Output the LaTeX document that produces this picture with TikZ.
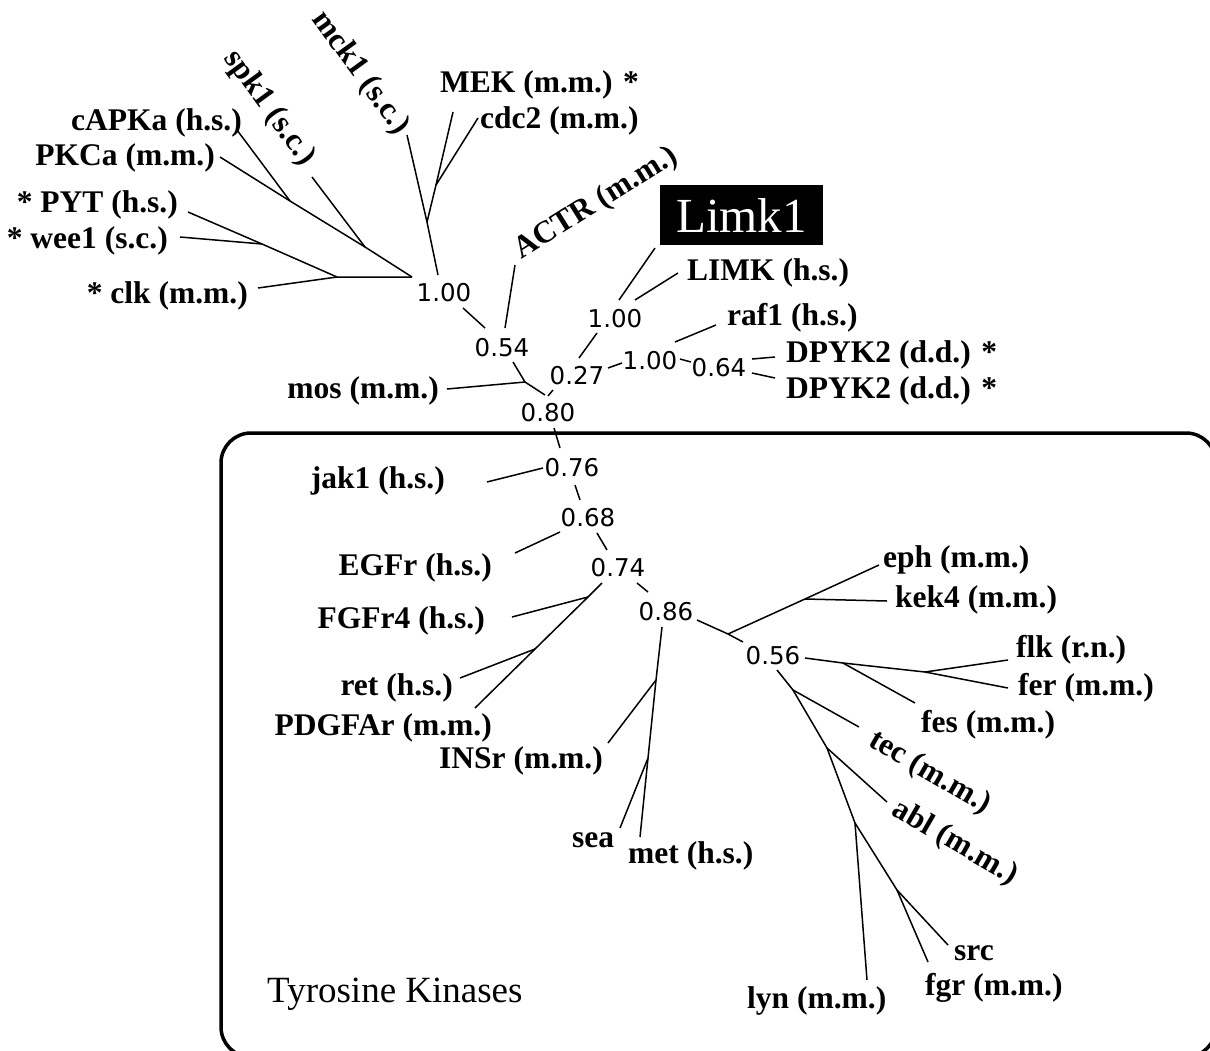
\documentclass[tikz,border=0pt]{standalone}
\usepackage{fontspec}
\setmainfont{Liberation Serif}
\newfontfamily\numfont{DejaVu Sans}
\begin{document}
\begin{tikzpicture}[x=1pt,y=-1pt,
  branch/.style={line width=1.5pt},
  lbl/.style={font=\fontsize{31.5}{36}\selectfont\bfseries, inner sep=0pt},
  num/.style={font=\fontsize{24.5}{28}\selectfont\numfont, inner sep=0pt},
  frame/.style={line width=3.5pt, rounded corners=30pt}]
\useasboundingbox (0,0) rectangle (1210,1050);
\clip (0,0) rectangle (1210,1050);

% ---------- labels: serine/threonine kinases ----------
\node[lbl, anchor=base east] (capka) at (242,130) {cAPKa (h.s.)};
\node[lbl, anchor=base east] (pkca) at (215,165) {PKCa (m.m.)};
\node[lbl, anchor=base east] (pyt) at (178,212) {* PYT (h.s.)};
\node[lbl, anchor=base east] (wee) at (168,248) {* wee1 (s.c.)};
\node[lbl, anchor=base east] (clk) at (248,303) {* clk (m.m.)};
\node[lbl, rotate=-54] (spk) at (269,108) {spk1 (s.c.)};
\node[lbl, rotate=-54] (mck) at (360,73) {mck1 (s.c.)};
\node[lbl, anchor=base west] (mek) at (440,92) {MEK (m.m.) *};
\node[lbl, anchor=base west] (cdc) at (480,128) {cdc2 (m.m.)};
\node[lbl, rotate=32] (actr) at (596,204) {ACTR (m.m.)};
\node[fill=black, text=white, minimum width=163pt, minimum height=60pt, inner sep=0pt,
      font=\fontsize{49}{55}\selectfont] (limk1) at (741.5,215) {Limk1};
\node[lbl, anchor=base west] (limk) at (687,280) {LIMK (h.s.)};
\node[lbl, anchor=base west] (raf) at (727,325) {raf1 (h.s.)};
\node[lbl, anchor=base west] (dpa) at (786,362) {DPYK2 (d.d.) *};
\node[lbl, anchor=base west] (dpb) at (786,398) {DPYK2 (d.d.) *};
\node[lbl, anchor=base east] (mos) at (439,398) {mos (m.m.)};

% ---------- labels: tyrosine kinases ----------
\node[lbl, anchor=base east] (jak) at (445,488) {jak1 (h.s.)};
\node[lbl, anchor=base east] (egfr) at (492,575) {EGFr (h.s.)};
\node[lbl, anchor=base east] (fgfr) at (485,628) {FGFr4 (h.s.)};
\node[lbl, anchor=base east] (ret) at (453,695) {ret (h.s.)};
\node[lbl, anchor=base east] (pdgf) at (492,735) {PDGFAr (m.m.)};
\node[lbl, anchor=base east] (insr) at (603,768) {INSr (m.m.)};
\node[lbl, anchor=base west] (sea) at (572,847) {sea};
\node[lbl, anchor=base west] (met) at (628,863) {met (h.s.)};
\node[lbl, anchor=base west] (eph) at (883,567) {eph (m.m.)};
\node[lbl, anchor=base west] (kek) at (895,607) {kek4 (m.m.)};
\node[lbl, anchor=base west] (flk) at (1016,657) {flk (r.n.)};
\node[lbl, anchor=base west] (fer) at (1018,695) {fer (m.m.)};
\node[lbl, anchor=base west] (fes) at (921,732) {fes (m.m.)};
\node[lbl, rotate=-30] (tec) at (930,773) {tec (m.m.)};
\node[lbl, rotate=-30] (abl) at (955,843) {abl (m.m.)};
\node[lbl, anchor=base west] (src) at (954,960) {src};
\node[lbl, anchor=base west] (fgr) at (925,995) {fgr (m.m.)};
\node[lbl, anchor=base west] (lyn) at (747,1008) {lyn (m.m.)};
\node[font=\fontsize{37}{42}\selectfont, inner sep=0pt, anchor=base west] (tyr) at (267,1002) {Tyrosine Kinases};

% ---------- bootstrap values ----------
\node[num] (nA) at (444,293) {1.00};
\node[num] (n54) at (502,348) {0.54};
\node[num] (n80) at (548,413) {0.80};
\node[num] (n27) at (577,376) {0.27};
\node[num] (nB) at (615,319) {1.00};
\node[num] (nC) at (650,361) {1.00};
\node[num] (n64) at (719,368) {0.64};
\node[num] (n76) at (572,468) {0.76};
\node[num] (n68) at (588,518) {0.68};
\node[num] (n74) at (618,568) {0.74};
\node[num] (n86) at (666,612) {0.86};
\node[num] (n56) at (773,656) {0.56};

% ---------- branch points and branch ends ----------
\coordinate (J1) at (412,277);
\coordinate (jc) at (290,201);
\coordinate (js) at (365,247);
\coordinate (jw) at (262,244);
\coordinate (jh) at (337,277);
\coordinate (capE) at (237,130);
\coordinate (pkcE) at (220,157);
\coordinate (spkE) at (312,177);
\coordinate (pytE) at (188,212);
\coordinate (weeE) at (180,237);
\coordinate (clkE) at (258,288);
\coordinate (mckE) at (407,135);
\coordinate (mckJ) at (438,275);
\coordinate (jm) at (427,222);
\coordinate (mekE) at (453,112);
\coordinate (jcd) at (436,185);
\coordinate (cdcE) at (478,118);

\coordinate (a1) at (463,308);
\coordinate (b54) at (485,328);
\coordinate (actrE) at (515,265);
\coordinate (actrS) at (505,328);
\coordinate (c54) at (513,362);
\coordinate (jmos) at (525,382);
\coordinate (c80) at (545,395);
\coordinate (mosE) at (447,389);
\coordinate (t27a) at (553,390);
\coordinate (t27b) at (548,396);
\coordinate (d27) at (579,358);
\coordinate (d100) at (597,333);
\coordinate (lk1) at (619,300);
\coordinate (lk2) at (655,248);
\coordinate (lm1) at (635,300);
\coordinate (lm2) at (678,273);
\coordinate (e27) at (608,368);
\coordinate (e100) at (622,363);
\coordinate (rafS) at (675,342);
\coordinate (rafE) at (716,325);
\coordinate (f100) at (680,359);
\coordinate (f64) at (691,362);
\coordinate (dpa1) at (752,359);
\coordinate (dpa2) at (775,357);
\coordinate (dpb1) at (752,373);
\coordinate (dpb2) at (775,378);

\coordinate (g80) at (554,428);
\coordinate (g76) at (560,448);
\coordinate (jakE) at (487,482);
\coordinate (jakS) at (543,468);
\coordinate (h76) at (575,485);
\coordinate (h68) at (580,500);
\coordinate (egfE) at (515,553);
\coordinate (egfS) at (560,532);
\coordinate (i68) at (597,533);
\coordinate (i74) at (607,550);
\coordinate (k74) at (602,583);
\coordinate (jf) at (588,597);
\coordinate (jr) at (535,649);
\coordinate (pdgE) at (475,708);
\coordinate (fgfE) at (512,617);
\coordinate (retE) at (460,678);
\coordinate (l74) at (637,583);
\coordinate (l86) at (648,592);
\coordinate (m86) at (662,627);
\coordinate (ji) at (656,680);
\coordinate (jse) at (648,758);
\coordinate (metE) at (640,837);
\coordinate (insE) at (608,743);
\coordinate (seaE) at (620,828);
\coordinate (n86r) at (697,620);
\coordinate (je) at (728,634);
\coordinate (n56l) at (743,642);
\coordinate (jk) at (805,599);
\coordinate (ephE) at (879,565);
\coordinate (kekE) at (887,601);
\coordinate (o56) at (805,658);
\coordinate (jfs) at (843,663);
\coordinate (jfl) at (925,672);
\coordinate (flkE) at (1008,660);
\coordinate (ferE) at (1008,688);
\coordinate (fesE) at (915,703);
\coordinate (p56) at (777,670);
\coordinate (jt) at (793,690);
\coordinate (ja) at (827,748);
\coordinate (jl) at (855,823);
\coordinate (lynE) at (867,980);
\coordinate (tecE) at (859,727);
\coordinate (ablE) at (887,802);
\coordinate (jsf) at (897,890);
\coordinate (srcE) at (948,945);
\coordinate (fgrE) at (928,962);

% ---------- branches ----------
\begin{scope}[branch]
\draw (pkcE) -- (jc) -- (js) -- (J1);
\draw (capE) -- (jc);
\draw (spkE) -- (js);
\draw (pytE) -- (jw) -- (jh) -- (J1);
\draw (weeE) -- (jw);
\draw (clkE) -- (jh);
\draw (mckE) -- (jm) -- (mckJ);
\draw (mekE) -- (jcd) -- (jm);
\draw (cdcE) -- (jcd);
\draw (a1) -- (b54);
\draw (actrE) -- (actrS);
\draw (c54) -- (jmos) -- (c80);
\draw (mosE) -- (jmos);
\draw (t27a) -- (t27b);
\draw (d27) -- (d100);
\draw (lk1) -- (lk2);
\draw (lm1) -- (lm2);
\draw (e27) -- (e100);
\draw (rafS) -- (rafE);
\draw (f100) -- (f64);
\draw (dpa1) -- (dpa2);
\draw (dpb1) -- (dpb2);
\draw (g80) -- (g76);
\draw (jakE) -- (jakS);
\draw (h76) -- (h68);
\draw (egfE) -- (egfS);
\draw (i68) -- (i74);
\draw (k74) -- (jf) -- (jr) -- (pdgE);
\draw (fgfE) -- (jf);
\draw (retE) -- (jr);
\draw (l74) -- (l86);
\draw (m86) -- (ji) -- (jse) -- (metE);
\draw (insE) -- (ji);
\draw (seaE) -- (jse);
\draw (n86r) -- (je) -- (n56l);
\draw (je) -- (jk) -- (ephE);
\draw (jk) -- (kekE);
\draw (o56) -- (jfs) -- (jfl) -- (flkE);
\draw (jfl) -- (ferE);
\draw (jfs) -- (fesE);
\draw (p56) -- (jt) -- (ja) -- (jl) -- (lynE);
\draw (jt) -- (tecE);
\draw (ja) -- (ablE);
\draw (jl) -- (jsf) -- (srcE);
\draw (jsf) -- (fgrE);
\end{scope}

% ---------- tyrosine kinase frame ----------
\draw[frame] (221,433) rectangle (1216,1057);
\end{tikzpicture}
\end{document}
